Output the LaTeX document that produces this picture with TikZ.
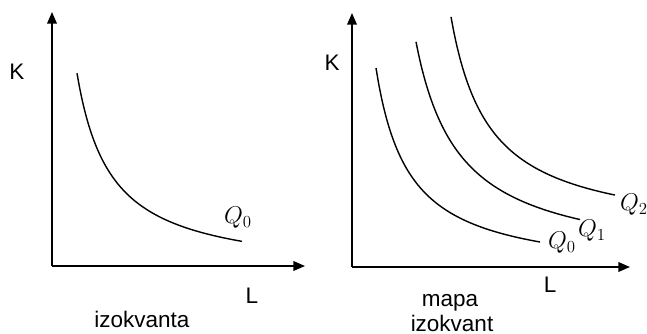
\documentclass[tikz,border=0pt]{standalone}
\usepackage{fontspec}
\setmainfont{Liberation Sans}
\usetikzlibrary{arrows.meta}
\begin{document}
\begin{tikzpicture}[>={Triangle[length=2.9mm,width=2.4mm]},
    axis/.style={->, line width=1.1pt},
    isoq/.style={line width=1pt, domain=#1, smooth, samples=60},
    txt/.style={font=\fontsize{16}{19}\selectfont, inner sep=0pt},
    qlbl/.style={font=\fontsize{17}{20}\selectfont, inner sep=0pt}]
    \useasboundingbox (0,0) rectangle (16.175,8.35);
    % levo: izokvanta
    \begin{scope}[shift={(1.3,1.7)}]
        \coordinate (O1) at (0,0);
        \coordinate (K1) at (0,6.35);
        \coordinate (L1) at (6.325,0);
        \draw[axis] (O1) -- (K1);
        \draw[axis] (O1) -- (L1);
        \draw[isoq=0.625:4.75] plot (\x, {4.309/(\x+0.225)-0.25});
    \end{scope}
    \node[txt] (k1) at (0.425,6.55) {K};
    \node[txt] (l1) at (6.3,0.95) {L};
    \node[qlbl] (q0a) at (5.95,2.9) {$Q_0$};
    \node[txt, anchor=base] (izo) at (3.55,0.15) {izokvanta};
    % desno: mapa izokvant
    \begin{scope}[shift={(8.8,1.675)}]
        \coordinate (O2) at (0,0);
        \coordinate (K2) at (0,6.35);
        \coordinate (L2) at (6.95,0);
        \draw[axis] (O2) -- (K2);
        \draw[axis] (O2) -- (L2);
        \draw[isoq=0.6:4.7] plot (\x, {4.309/(\x+0.225)-0.25});
        \draw[isoq=1.6:5.7] plot (\x, {6.1625/(\x-0.505)});
        \draw[isoq=2.475:6.575] plot (\x, {5.311/(\x-1.51)+0.75});
    \end{scope}
    \node[txt] (k2) at (8.3,6.775) {K};
    \node[txt] (l2) at (13.75,1.225) {L};
    \node[qlbl] (q0b) at (14.05,2.275) {$Q_0$};
    \node[qlbl] (q1) at (14.8,2.58) {$Q_1$};
    \node[qlbl] (q2) at (15.85,3.225) {$Q_2$};
    \node[txt, anchor=base] (mapa) at (11.25,0.68) {mapa};
    \node[txt, anchor=base] (izomap) at (11.3,0.07) {izokvant};
\end{tikzpicture}
\end{document}
